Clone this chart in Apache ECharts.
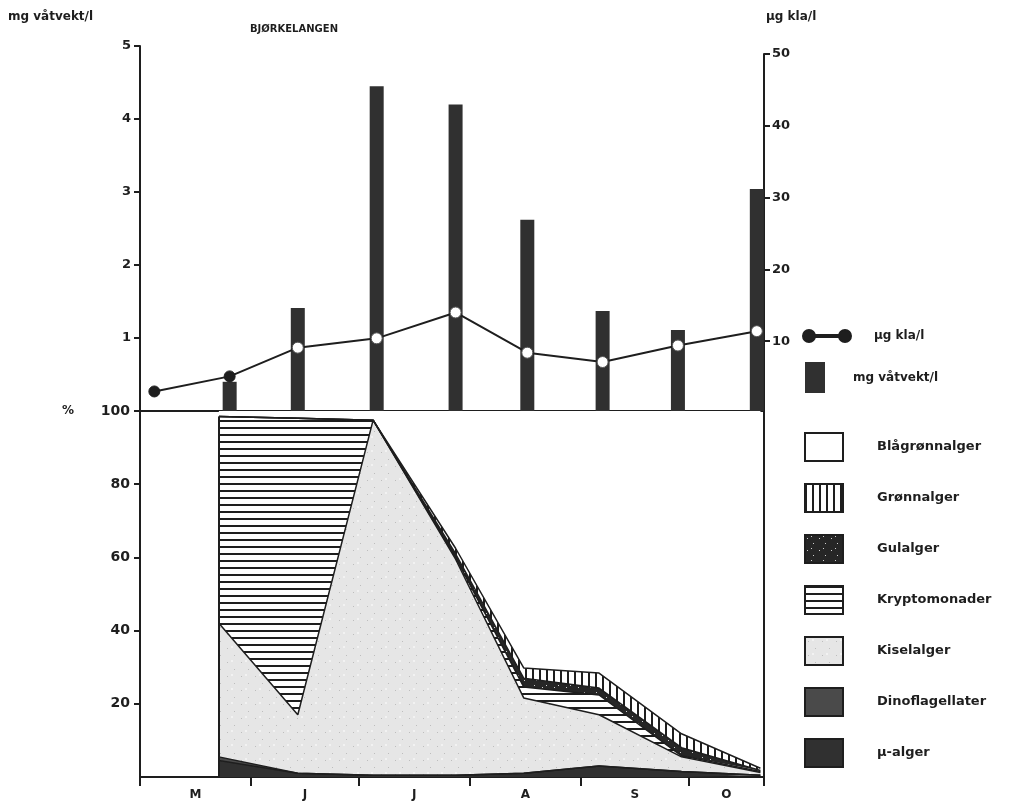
<!DOCTYPE html>
<html><head><meta charset="utf-8">
<script src="https://cdn.jsdelivr.net/npm/echarts@6/dist/echarts.min.js"></script>
<style>html,body{margin:0;padding:0;background:#fff}#c{width:1028px;height:810px}</style>
</head><body><div id="c"></div>
<script>
// x values: days counted from 1 May
const sampleDays   = [4, 25, 44, 66, 88, 108, 129, 150, 172];
const chlaValues   = [3.0, 5.1, 9.1, 10.4, 14.0, 8.4, 7.1, 9.4, 11.4];      // µg kla/l
const biomassDays  = [25, 44, 66, 88, 108, 129, 150, 172];
const biomassValues= [0.4, 1.41, 4.45, 4.2, 2.62, 1.37, 1.11, 3.04];       // mg våtvekt/l
const compDays     = [22, 44, 65, 88, 107, 128, 151, 173];
const muAlger        = [4.5, 1, 0.5, 0.5, 1, 3, 1.5, 0.5];
const dinoflagellater= [1, 0, 0, 0, 0, 0, 0, 0];
const kiselalger     = [36.5, 16, 97, 59, 20.6, 14, 4, 0.7];
const kryptomonader  = [56.5, 81, 0, 0.5, 3, 5.4, 0.3, 0.3];
const gulalger       = [0, 0, 0, 1, 2.4, 1.9, 2.2, 0.3];
const gronnalger     = [0, 0, 0, 1.5, 2.8, 4.1, 3.8, 0.6];
const blagronnalger  = [1.5, 2, 2.5, 37.5, 70.2, 71.6, 88.2, 97.6];
const monthStarts = [0, 31, 61, 92, 123, 153, 174];
const monthLabels = ['M', 'J', 'J', 'A', 'S', 'O'];
const groupNames = ['Blågrønnalger', 'Grønnalger', 'Gulalger', 'Kryptomonader', 'Kiselalger', 'Dinoflagellater', 'µ-alger'];

const FONT = 'DejaVu Sans';
const INK = '#1e1e1e';

function pattern(bg, w, h, draw) {
  const c = document.createElement('canvas'); c.width = w; c.height = h;
  const g = c.getContext('2d'); g.fillStyle = bg; g.fillRect(0, 0, w, h);
  if (draw) draw(g);
  return { image: c, repeat: 'repeat' };
}
const pBla = pattern('#ffffff', 8, 8);
const pGronn = pattern('#ffffff', 7, 8, g => { g.fillStyle = INK; g.fillRect(0, 0, 2, 8); });
const pGul = pattern('#262626', 12, 12, g => { g.fillStyle = '#cfcfcf'; g.fillRect(2, 3, 1, 1); g.fillRect(8, 8, 1, 1); g.fillRect(6, 1, 1, 1); });
const pKrypto = pattern('#ffffff', 8, 7, g => { g.fillStyle = INK; g.fillRect(0, 0, 8, 2); });
const pKisel = pattern('#e6e6e6', 14, 14, g => { g.fillStyle = '#bdbdbd'; g.fillRect(3, 4, 1, 1); g.fillRect(10, 11, 1, 1); g.fillStyle = '#f2f2f2'; g.fillRect(7, 2, 2, 2); });
const pDino = pattern('#4a4a4a', 8, 8);
const pMu = pattern('#303030', 8, 8);
const groupFills = [pBla, pGronn, pGul, pKrypto, pKisel, pDino, pMu];
const groupData = [blagronnalger, gronnalger, gulalger, kryptomonader, kiselalger, dinoflagellater, muAlger];

const X_MAX = monthStarts[monthStarts.length - 1];
const B_MAX = 5, C_MAX = 50;
const barAt = {};
biomassDays.forEach((d, i) => barAt[d] = biomassValues[i]);
// height of the filled stack (everything except Blågrønnalger) at the first sample
const firstStackTop = groupData.slice(1).reduce((s, arr) => s + arr[0], 0);

const chart = echarts.init(document.getElementById('c'), null, { renderer: 'canvas' });

const labelStyle = { color: INK, fontFamily: FONT, fontWeight: 'bold', fontSize: 13 };
const axisLine = { show: true, onZero: false, lineStyle: { color: INK, width: 2 } };
const tick = { show: true, inside: false, length: 6, lineStyle: { color: INK, width: 2 } };

const compSeries = [];
for (let k = groupNames.length - 1; k >= 0; k--) {
  const s = {
    name: groupNames[k], type: 'line', stack: 'comp', xAxisIndex: 2, yAxisIndex: 2,
    symbol: 'none', silent: true,
    // value first so that the stack is built on the percentage dimension
    encode: { x: 1, y: 0 },
    data: compDays.map((d, i) => [groupData[k][i], d]),
    lineStyle: { color: INK, width: k === 0 ? 0 : 1.5 },
    itemStyle: { color: groupFills[k], borderColor: INK, borderWidth: 2 },
    areaStyle: { color: groupFills[k], opacity: 1 },
    z: 2
  };
  if (k === groupNames.length - 1) {
    s.markLine = { silent: true, symbol: 'none', label: { show: false }, lineStyle: { color: INK, width: 2, type: 'solid' },
      data: [[{ coord: [compDays[0], 0] }, { coord: [compDays[0], firstStackTop] }]], z: 5 };
  }
  compSeries.push(s);
}

const dotIcon = 'path://M6,0A6,6,0,1,1,6,12A6,6,0,1,1,6,0ZM11,5H37V7H11ZM42,0A6,6,0,1,1,42,12A6,6,0,1,1,42,0Z';
const unitStyle = { color: INK, fontFamily: FONT, fontWeight: 'bold', fontSize: 12 };

chart.setOption({
  animation: false,
  backgroundColor: '#fff',
  title: [
    { text: 'BJØRKELANGEN', left: 250, top: 24, padding: 0, textStyle: { ...unitStyle, fontSize: 10 } },
    { text: 'mg våtvekt/l', left: 8, top: 11, padding: 0, textStyle: unitStyle },
    { text: 'µg kla/l', left: 766, top: 11, padding: 0, textStyle: unitStyle }
  ],
  grid: [
    { left: 140, right: 264, top: 46, bottom: 399 },
    { left: 140, right: 264, top: 54, bottom: 397 },
    { left: 140, right: 264, top: 411, bottom: 33 }
  ],
  legend: [
    { data: [{ name: 'µg kla/l', icon: dotIcon }], left: 797, top: 324, itemWidth: 48, itemHeight: 12, selectedMode: false,
      textStyle: { ...labelStyle, fontSize: 12, padding: [6, 0, 0, 18] } },
    { data: [{ name: 'mg våtvekt/l', icon: 'rect' }], left: 800, top: 357, itemWidth: 20, itemHeight: 31, selectedMode: false,
      textStyle: { ...labelStyle, fontSize: 12, padding: [22, 0, 0, 23] } },
    { data: groupNames.map((n, k) => ({ name: n, icon: 'rect', itemStyle: { color: groupFills[k], borderColor: INK, borderWidth: 2 } })),
      orient: 'vertical', left: 799, top: 427, itemWidth: 38, itemHeight: 28, itemGap: 21, selectedMode: false,
      textStyle: { ...labelStyle, fontSize: 13, padding: [0, 0, 0, 29] } }
  ],
  xAxis: [
    { gridIndex: 0, type: 'value', min: 0, max: X_MAX, axisLine, axisTick: { show: false }, axisLabel: { show: false }, splitLine: { show: false } },
    { gridIndex: 1, type: 'value', min: 0, max: X_MAX, show: false },
    { gridIndex: 2, type: 'value', min: 0, max: X_MAX, axisLine, splitLine: { show: false },
      axisTick: { ...tick, length: 9, customValues: monthStarts },
      axisLabel: { ...labelStyle, fontSize: 12, margin: 12,
        customValues: monthLabels.map((m, i) => (monthStarts[i] + monthStarts[i + 1]) / 2),
        formatter: v => { const i = monthStarts.findIndex((s, j) => (s + monthStarts[j + 1]) / 2 === v); return i >= 0 ? monthLabels[i] : ''; } } }
  ],
  yAxis: [
    { gridIndex: 0, type: 'value', min: 0, max: B_MAX, interval: 1, position: 'left',
      axisLine, axisTick: tick,
      axisLabel: { ...labelStyle, margin: 9, showMinLabel: false }, splitLine: { show: false } },
    { gridIndex: 1, type: 'value', min: 0, max: C_MAX, interval: 10, position: 'right',
      axisLine, axisTick: tick,
      axisLabel: { ...labelStyle, margin: 8, showMinLabel: false }, splitLine: { show: false } },
    { gridIndex: 2, type: 'value', min: 0, max: 100, interval: 20, position: 'left',
      name: '%', nameLocation: 'end', nameGap: 0,
      nameTextStyle: { ...labelStyle, fontSize: 12, align: 'right', verticalAlign: 'middle', padding: [0, 66, 0, 0] },
      axisLine, axisTick: tick,
      axisLabel: { ...labelStyle, fontSize: 14, margin: 10, showMinLabel: false }, splitLine: { show: false } },
    { gridIndex: 2, type: 'value', min: 0, max: 100, position: 'right',
      axisLine, axisTick: { show: false }, axisLabel: { show: false }, splitLine: { show: false } }
  ],
  series: [
    { name: 'mg våtvekt/l', type: 'bar', xAxisIndex: 0, yAxisIndex: 0, barWidth: 14,
      itemStyle: { color: '#303030' }, data: biomassDays.map((d, i) => [d, biomassValues[i]]), z: 3 },
    { name: 'µg kla/l', type: 'line', xAxisIndex: 1, yAxisIndex: 1, symbol: 'circle', symbolSize: 11,
      lineStyle: { color: INK, width: 2 }, itemStyle: { color: INK, borderColor: INK, borderWidth: 1 }, z: 4,
      data: sampleDays.map((d, i) => {
        const onBar = barAt[d] !== undefined && barAt[d] / B_MAX > chlaValues[i] / C_MAX;
        return onBar ? { value: [d, chlaValues[i]], itemStyle: { color: '#ffffff', borderColor: '#555', borderWidth: 1 } } : [d, chlaValues[i]];
      }) },
    ...compSeries
  ]
});
</script></body></html>
